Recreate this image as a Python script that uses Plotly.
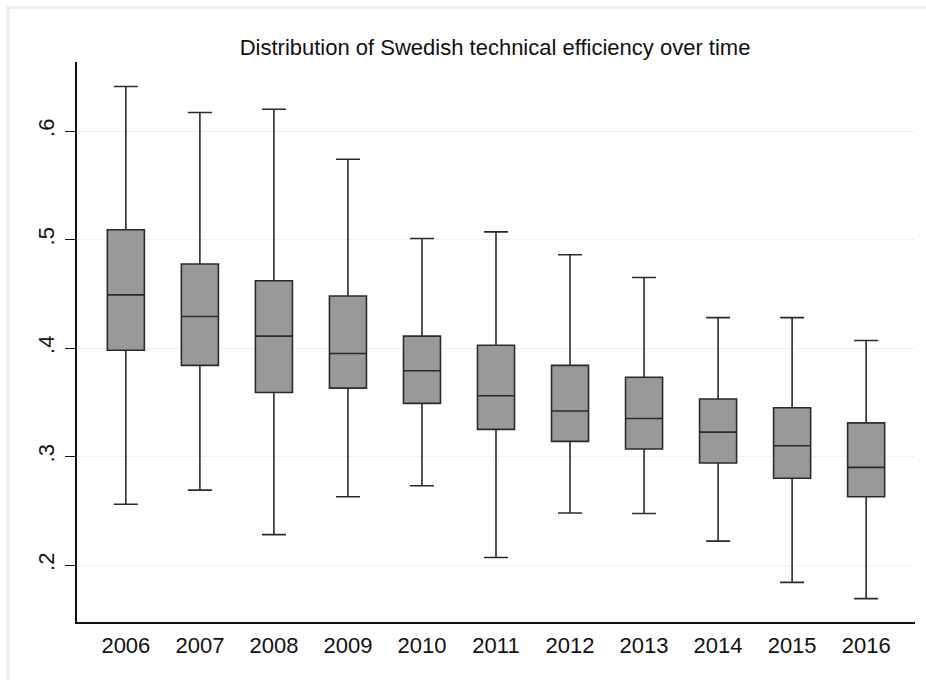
import plotly.graph_objects as go

years = ["2006", "2007", "2008", "2009", "2010", "2011", "2012", "2013", "2014", "2015", "2016"]
upper = [0.641, 0.617, 0.620, 0.574, 0.501, 0.507, 0.486, 0.465, 0.428, 0.428, 0.407]
q3 = [0.509, 0.4775, 0.462, 0.448, 0.411, 0.4025, 0.384, 0.373, 0.353, 0.345, 0.331]
median = [0.449, 0.429, 0.411, 0.395, 0.379, 0.356, 0.342, 0.335, 0.3225, 0.310, 0.290]
q1 = [0.398, 0.384, 0.359, 0.363, 0.349, 0.325, 0.314, 0.307, 0.294, 0.280, 0.263]
lower = [0.256, 0.269, 0.228, 0.263, 0.273, 0.207, 0.248, 0.2475, 0.222, 0.184, 0.169]

ytick_vals = [0.2, 0.3, 0.4, 0.5, 0.6]
ytick_text = [".2", ".3", ".4", ".5", ".6"]

fig = go.Figure()
fig.add_trace(go.Box(
    x=years, q1=q1, median=median, q3=q3,
    lowerfence=lower, upperfence=upper,
    fillcolor="#999999",
    line=dict(color="#2b2b2b", width=1.6),
    width=0.5,
    whiskerwidth=0.65,
    boxpoints=False,
    showlegend=False,
    hoverinfo="y",
))

frame_col = "#e9f0f3"
fig.update_layout(
    width=926, height=680,
    margin=dict(l=77, r=11, t=62, b=58, autoexpand=False),
    paper_bgcolor="white",
    plot_bgcolor="white",
    font=dict(family="Liberation Sans, Arial, sans-serif", color="#111111"),
    title=dict(text="Distribution of Swedish technical efficiency over time",
               x=0.5346, xanchor="center", y=0.931, yanchor="middle",
               font=dict(size=22, color="#111111")),
    xaxis=dict(
        type="category", range=[-0.66, 10.66],
        showline=True, linecolor="#111111", linewidth=1.5,
        ticks="", showgrid=False, zeroline=False,
        tickfont=dict(size=22, color="#111111"),
        ticklabelstandoff=3,
    ),
    yaxis=dict(
        range=[0.1475, 0.6636],
        tickvals=ytick_vals, ticktext=ytick_text,
        tickangle=-90,
        showline=True, linecolor="#111111", linewidth=1.5,
        ticks="outside", ticklen=10, tickwidth=1.2, tickcolor="#111111",
        showgrid=True, gridcolor="#eaf2f3", gridwidth=1.2,
        zeroline=False,
        tickfont=dict(size=22, color="#111111"),
        ticklabelstandoff=2,
    ),
    shapes=[
        dict(type="line", xref="paper", yref="paper", x0=-0.0835, x1=1.02,
             y0=1.0973, y1=1.0973, line=dict(color=frame_col, width=3), layer="below"),
        dict(type="line", xref="paper", yref="paper", x0=-0.0823, x1=-0.0823,
             y0=-0.11, y1=1.0995, line=dict(color=frame_col, width=3), layer="below"),
    ],
)

fig.write_html("out.html", config={"displayModeBar": False},
               post_script="document.body.style.margin='0px';document.body.style.overflow='hidden';")
